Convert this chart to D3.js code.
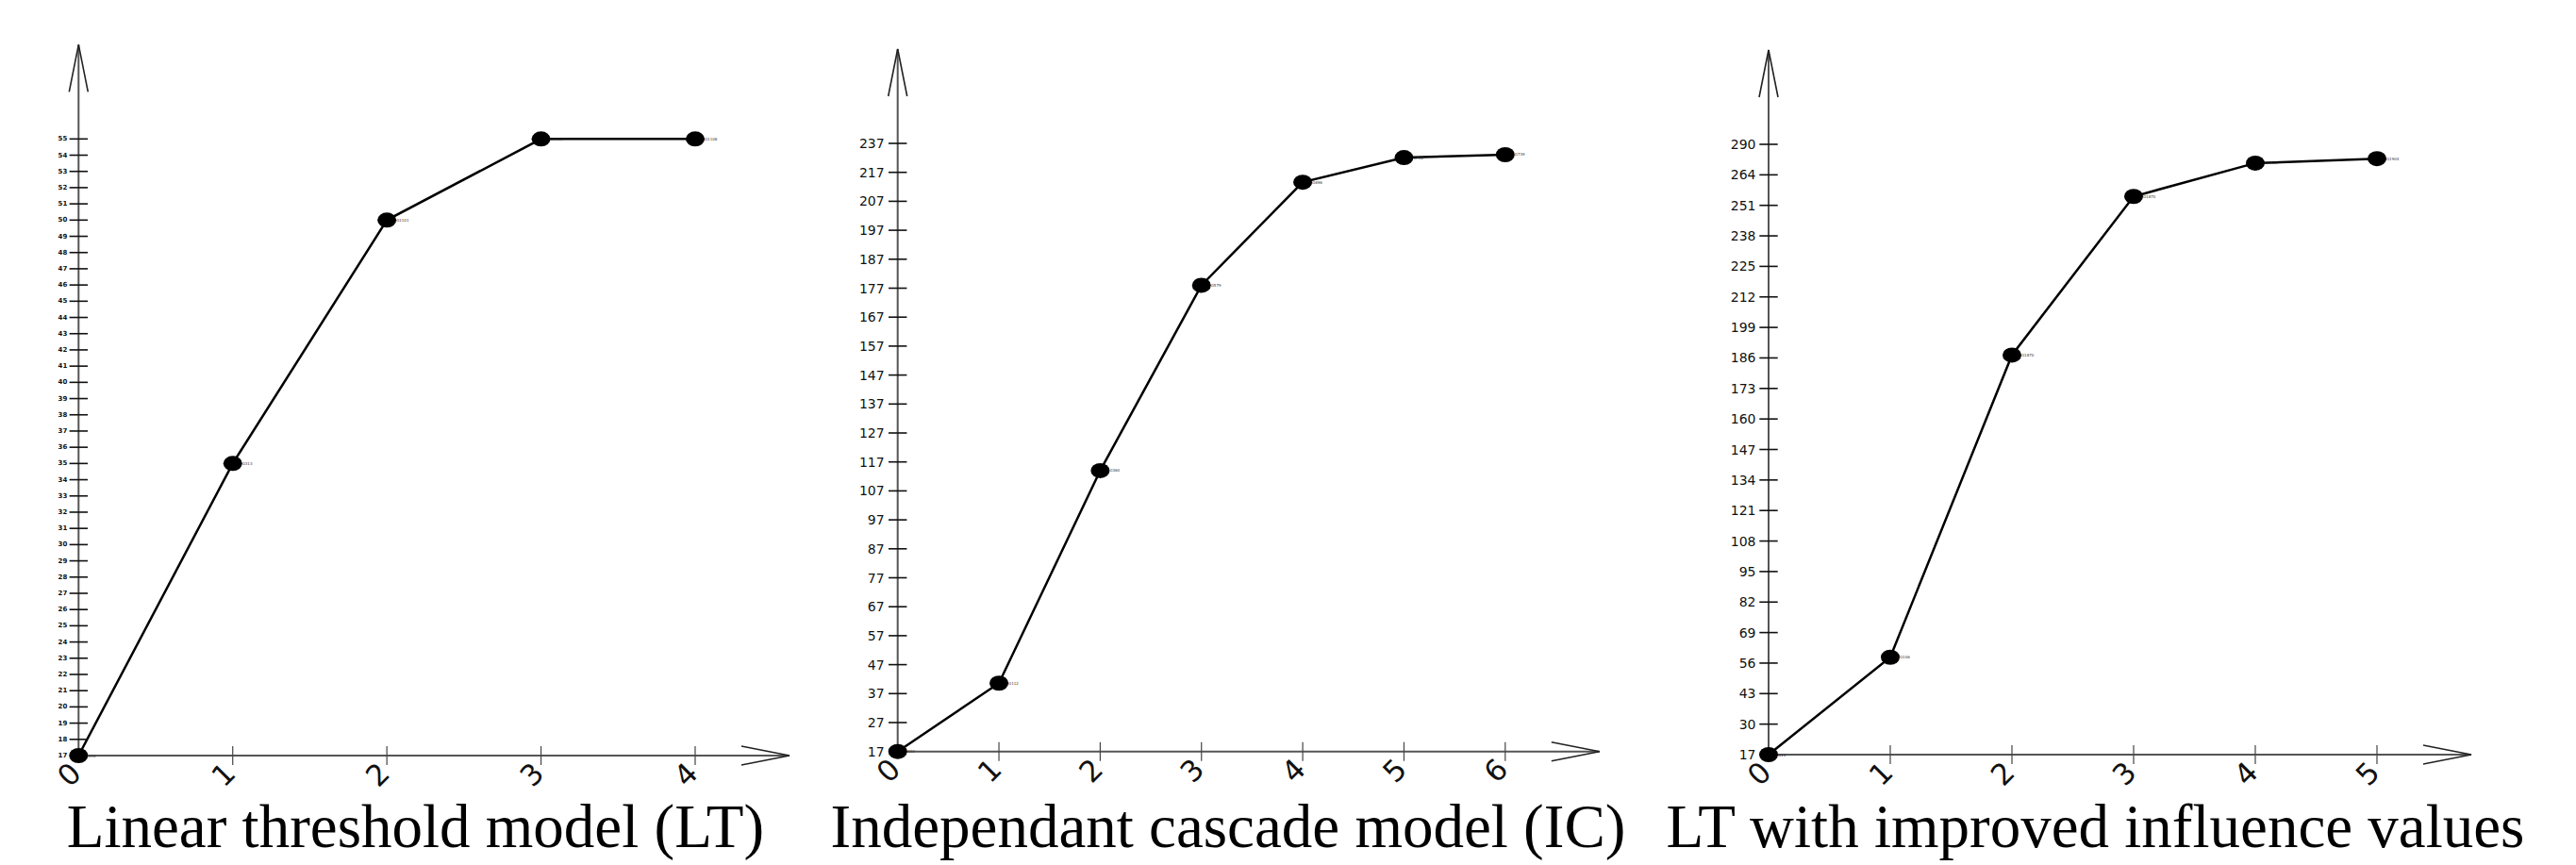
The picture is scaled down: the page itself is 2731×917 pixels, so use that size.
<!DOCTYPE html>
<html>
<head>
<meta charset="utf-8">
<script src="https://cdn.jsdelivr.net/npm/d3@7"></script>
<style>
  html, body { margin: 0; padding: 0; background: #fff; }
  svg { display: block; }
</style>
</head>
<body>
<svg id="chart" width="2731" height="917"></svg>
<script>
// ---------- DATA ----------
const titles = ["Linear threshold model (LT)", "Independant cascade model (IC)", "LT with improved influence values"];

const ltSteps = [0, 1, 2, 3, 4];
const ltValues = [17, 35, 50, 55, 55];
const ltNodeLabels = ["G10", "G313", "G1101", "G1100", "G1108"];
const ltTickLabels = [17,18,19,20,21,22,23,24,25,26,27,28,29,30,31,32,33,34,35,36,37,38,39,40,41,42,43,44,45,46,47,48,49,50,51,52,53,54,55];

const icSteps = [0, 1, 2, 3, 4, 5, 6];
const icValues = [17, 40.6, 114, 178, 213.6, 222.1, 223.1];
const icNodeLabels = ["G10", "G112", "G360", "G579", "G696", "G702", "G739"];
const icTickLabels = [17,27,37,47,57,67,77,87,97,107,117,127,137,147,157,167,177,187,197,207,217,237];
const icTickStep = 10;

const ltiSteps = [0, 1, 2, 3, 4, 5];
const ltiValues = [17, 58.5, 187.2, 254.8, 269, 270.9];
const ltiNodeLabels = ["G10", "G106", "G1870", "G1870", "G1904", "G1904"];
const ltiTickLabels = [17,30,43,56,69,82,95,108,121,134,147,160,173,186,199,212,225,238,251,264,290];
const ltiTickStep = 13;

// ---------- LAYOUT ----------
const panels = [
  { steps: ltSteps, values: ltValues, nodes: ltNodeLabels, tickLabels: ltTickLabels, tickStep: 1,
    x0: 83.3, x1: 737, y0: 801, y1: 147.3, labelSize: 7, labelWeight: 600, labelGap: 12, title: titles[0], titleX: 440.5 },
  { steps: icSteps, values: icValues, nodes: icNodeLabels, tickLabels: icTickLabels, tickStep: icTickStep,
    x0: 951.7, x1: 1595.8, y0: 796.7, y1: 152, labelSize: 14, labelWeight: 400, labelGap: 14, title: titles[1], titleX: 1302 },
  { steps: ltiSteps, values: ltiValues, nodes: ltiNodeLabels, tickLabels: ltiTickLabels, tickStep: ltiTickStep,
    x0: 1875, x1: 2520, y0: 800, y1: 153, labelSize: 14, labelWeight: 400, labelGap: 13.5, title: titles[2], titleX: 2221.5 }
];

const svg = d3.select("#chart");

panels.forEach(p => {
  const g = svg.append("g");
  const nT = p.tickLabels.length;
  const yMin = p.tickLabels[0];
  const yTopPos = yMin + p.tickStep * (nT - 1);   // position value of top tick
  const x = d3.scaleLinear().domain([0, p.steps[p.steps.length - 1]]).range([p.x0, p.x1]);
  const y = d3.scaleLinear().domain([yMin, yTopPos]).range([p.y0, p.y1]);
  const tickPos = p.tickLabels.map((d, i) => yMin + p.tickStep * i);

  const tipTop = y(yTopPos) - 100;
  const tipRight = x(p.steps[p.steps.length - 1]) + 100;

  // axes lines
  g.append("line").attr("x1", p.x0).attr("x2", p.x0).attr("y1", p.y0 + 6).attr("y2", tipTop)
    .attr("stroke", "#555").attr("stroke-width", 2);
  g.append("line").attr("x1", p.x0).attr("x2", tipRight).attr("y1", p.y0).attr("y2", p.y0)
    .attr("stroke", "#555").attr("stroke-width", 2);

  // arrow heads (open chevrons)
  g.append("path")
    .attr("d", `M${p.x0 - 10},${tipTop + 50} L${p.x0},${tipTop} L${p.x0 + 10},${tipTop + 50}`)
    .attr("fill", "none").attr("stroke", "#222").attr("stroke-width", 1.6);
  g.append("path")
    .attr("d", `M${tipRight - 51},${p.y0 - 10} L${tipRight},${p.y0} L${tipRight - 51},${p.y0 + 10}`)
    .attr("fill", "none").attr("stroke", "#222").attr("stroke-width", 1.6);

  // y ticks + labels
  const yt = g.selectAll(".yt").data(tickPos).enter().append("g");
  yt.append("line")
    .attr("x1", p.x0 - 9.7).attr("x2", p.x0 + 9.7)
    .attr("y1", d => y(d)).attr("y2", d => y(d))
    .attr("stroke", "#111").attr("stroke-width", 1.6);
  yt.append("text")
    .attr("x", p.x0 - p.labelGap).attr("y", d => y(d))
    .attr("text-anchor", "end").attr("dominant-baseline", "central")
    .attr("font-family", "DejaVu Sans").attr("font-size", p.labelSize)
    .attr("font-weight", p.labelWeight)
    .attr("fill", "#111")
    .text((d, i) => p.tickLabels[i]);

  // x ticks + labels
  const xt = g.selectAll(".xt").data(p.steps).enter().append("g");
  xt.filter(d => d > 0).append("line")
    .attr("x1", d => x(d)).attr("x2", d => x(d))
    .attr("y1", p.y0 - 10).attr("y2", p.y0 + 10)
    .attr("stroke", "#444").attr("stroke-width", 1.2);
  xt.append("text")
    .attr("transform", d => `translate(${x(d) - 10},${p.y0 + 20}) rotate(-45)`)
    .attr("text-anchor", "middle").attr("dominant-baseline", "central")
    .attr("font-family", "DejaVu Sans").attr("font-size", 31)
    .attr("font-weight", 400)
    .attr("fill", "#111")
    .text(d => d);

  // data line
  const line = d3.line().x((d, i) => x(p.steps[i])).y(d => y(d));
  g.append("path").datum(p.values).attr("d", line)
    .attr("fill", "none").attr("stroke", "#000").attr("stroke-width", 2.5);

  // points
  g.selectAll(".pt").data(p.values).enter().append("ellipse")
    .attr("cx", (d, i) => x(p.steps[i])).attr("cy", d => y(d))
    .attr("rx", 10).attr("ry", 8).attr("fill", "#000");

  // tiny node labels
  g.selectAll(".nl").data(p.values).enter().append("text")
    .attr("x", (d, i) => x(p.steps[i]) + 10).attr("y", d => y(d))
    .attr("dominant-baseline", "central")
    .attr("font-family", "DejaVu Sans").attr("font-size", 4)
    .attr("fill", "#333")
    .text((d, i) => p.nodes[i]);

  // title
  g.append("text").attr("x", p.titleX).attr("y", 898)
    .attr("text-anchor", "middle")
    .attr("font-family", "Liberation Serif, Times New Roman, serif").attr("font-size", 65)
    .attr("fill", "#000")
    .text(p.title);
});
</script>
</body>
</html>
